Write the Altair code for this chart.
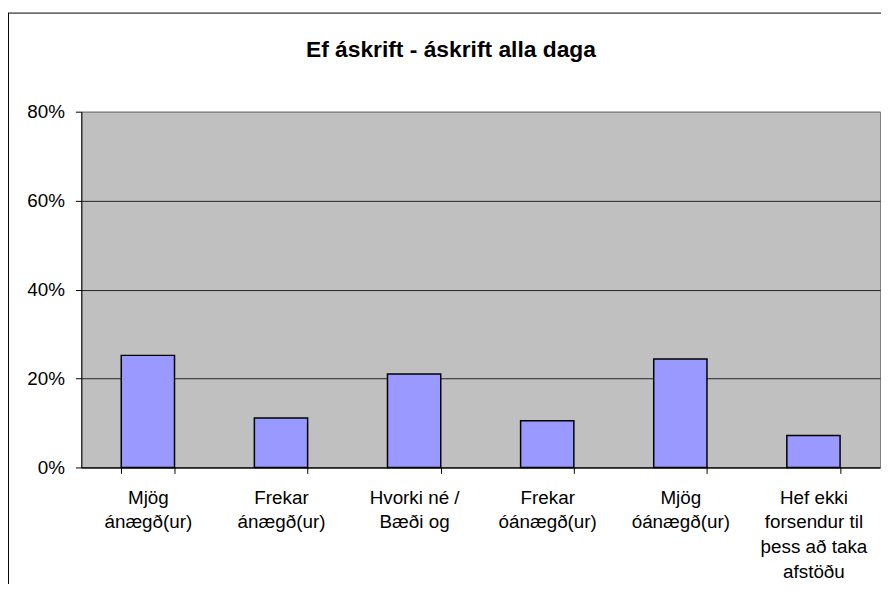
import altair as alt
import pandas as pd

# ---- data ----
categories = [
    "Mjög|ánægð(ur)",
    "Frekar|ánægð(ur)",
    "Hvorki né /|Bæði og",
    "Frekar|óánægð(ur)",
    "Mjög|óánægð(ur)",
    "Hef ekki|forsendur til|þess að taka|afstöðu",
]
values = [0.252, 0.111, 0.210, 0.105, 0.244, 0.072]
y_ticks = [0, 0.2, 0.4, 0.6, 0.8]
chart_title = ["Ef áskrift - áskrift alla daga"]

FONT = "Liberation Sans"

df = pd.DataFrame({"cat": categories, "val": values})
frame_df = pd.DataFrame({"k": [0]})
title_df = pd.DataFrame({"t": chart_title})

bars = alt.Chart(df).mark_bar(
    color="#9999FF", stroke="#000000", strokeWidth=1.5
).encode(
    x=alt.X(
        "cat:N",
        sort=categories,
        title=None,
        scale=alt.Scale(paddingInner=0.6, paddingOuter=0.3),
        axis=alt.Axis(
            labelAngle=0,
            labelExpr="split(datum.label, '|')",
            labelFont=FONT,
            labelFontSize=19,
            labelColor="#000000",
            labelLineHeight=25,
            labelPadding=15,
            labelLimit=0,
            tickBand="extent",
            tickSize=6,
            tickColor="#000000",
            tickWidth=1,
            domainColor="#000000",
            domainWidth=1,
            grid=False,
        ),
    ),
    y=alt.Y(
        "val:Q",
        title=None,
        scale=alt.Scale(domain=[0, 0.8], nice=False, zero=True),
        axis=alt.Axis(
            values=y_ticks,
            format=".0%",
            labelFont=FONT,
            labelFontSize=19,
            labelColor="#000000",
            labelPadding=11,
            tickSize=6,
            tickColor="#000000",
            tickWidth=1,
            domainColor="#000000",
            domainWidth=1,
            grid=True,
            gridColor=alt.condition(
                "datum.value >= 0.79", alt.value("#808080"), alt.value("#222222")
            ),
            gridWidth=1,
        ),
    ),
)

title_mark = alt.Chart(title_df).mark_text(
    font=FONT, fontSize=23, fontWeight="bold", color="#000000",
    align="center", baseline="alphabetic",
).encode(text="t:N", x=alt.value(373), y=alt.value(-55))

frame_v = alt.Chart(frame_df).mark_rule(color="#000000", strokeWidth=1).encode(
    x=alt.value(-73.5), y=alt.value(-100), y2=alt.value(800)
)
frame_h = alt.Chart(frame_df).mark_rule(color="#000000", strokeWidth=1).encode(
    x=alt.value(-73.5), x2=alt.value(1200), y=alt.value(-99.5)
)

chart = alt.layer(bars, title_mark, frame_v, frame_h).properties(
    width=806,
    height=359,
    autosize=alt.AutoSizeParams(type="none"),
    padding={"left": 74, "top": 102, "right": 1, "bottom": 115},
    background="#FFFFFF",
).configure_view(
    fill="#C0C0C0", stroke="#808080", strokeWidth=1
)

chart.save("out.html", embed_options={"renderer": "svg", "actions": False})
